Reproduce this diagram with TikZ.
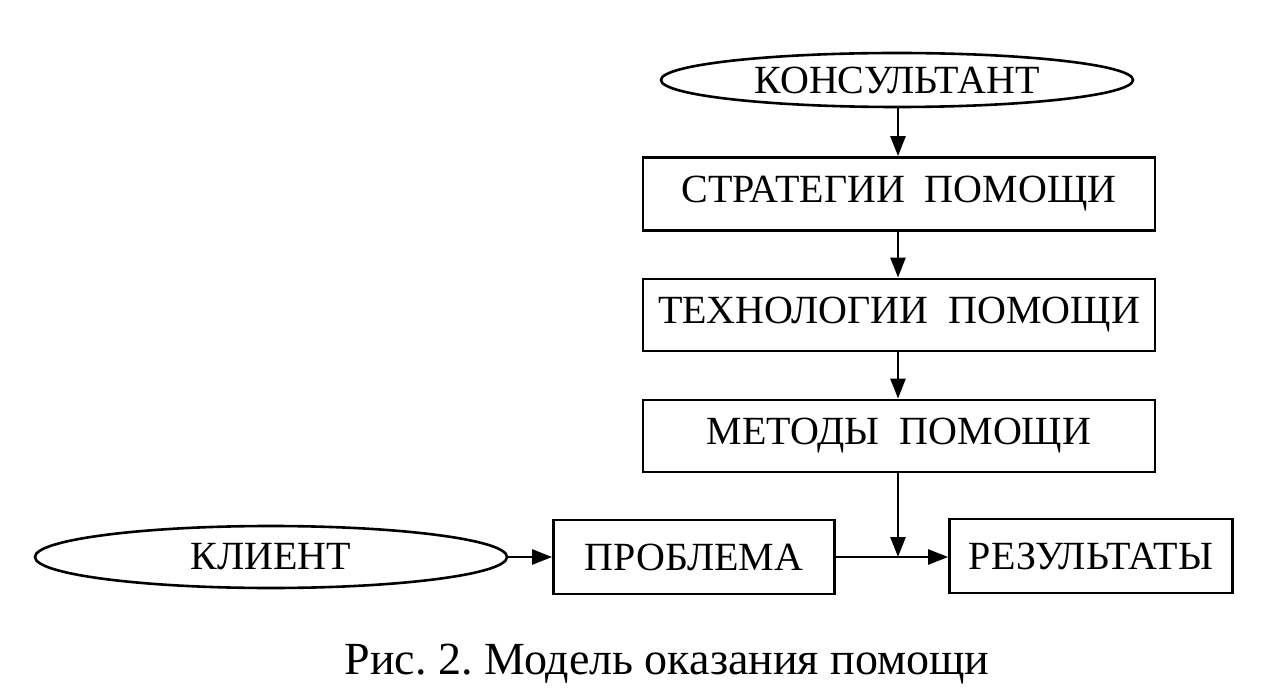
\documentclass[tikz,border=0pt]{standalone}
\usepackage{fontspec}
\setmainfont{Liberation Serif}
\usetikzlibrary{shapes.geometric,arrows.meta}
\frenchspacing
\begin{document}
\begin{tikzpicture}[x=1pt,y=-1pt,
  every node/.style={font=\fontsize{40}{44}\selectfont},
  blk/.style={draw,line width=2.8pt,rectangle,inner sep=0pt},
  oval/.style={draw,line width=2.6pt,ellipse,inner sep=0pt},
  arr/.style={line width=2.6pt,-{Triangle[length=20pt,width=15pt]}}]
\useasboundingbox (0,0) rectangle (1266,700);
\node[oval,minimum width=472pt,minimum height=54pt] (kons) at (897,80) {КОНСУЛЬТАНТ};
\node[blk,minimum width=512pt,minimum height=73pt] (strat) at (899,194) {СТРАТЕГИИ\ \ ПОМОЩИ};
\node[blk,minimum width=512pt,minimum height=72pt] (tech) at (899,315) {ТЕХНОЛОГИИ\ \ ПОМОЩИ};
\node[blk,minimum width=512pt,minimum height=72pt] (meth) at (899,436) {МЕТОДЫ\ \ ПОМОЩИ};
\node[oval,minimum width=472pt,minimum height=62pt] (klient) at (271,557) {КЛИЕНТ};
\node[blk,minimum width=281pt,minimum height=74pt] (prob) at (694,557) {ПРОБЛЕМА};
\node[blk,minimum width=283pt,minimum height=74pt] (res) at (1091,556) {РЕЗУЛЬТАТЫ};
\coordinate (j) at (898,557);
\node[font=\fontsize{46}{50}\selectfont] (cap) at (667,664) {Рис. 2. Модель оказания помощи};
\draw[arr] (kons.south -| j) -- (strat.north -| j);
\draw[arr] (strat.south -| j) -- (tech.north -| j);
\draw[arr] (tech.south -| j) -- (meth.north -| j);
\draw[arr] (meth.south -| j) -- (j);
\draw[arr] (klient.east) -- (prob.west);
\draw[line width=2.6pt] (prob.east) -- (j);
\draw[arr] (j) -- (res.west |- j);
\end{tikzpicture}
\end{document}
